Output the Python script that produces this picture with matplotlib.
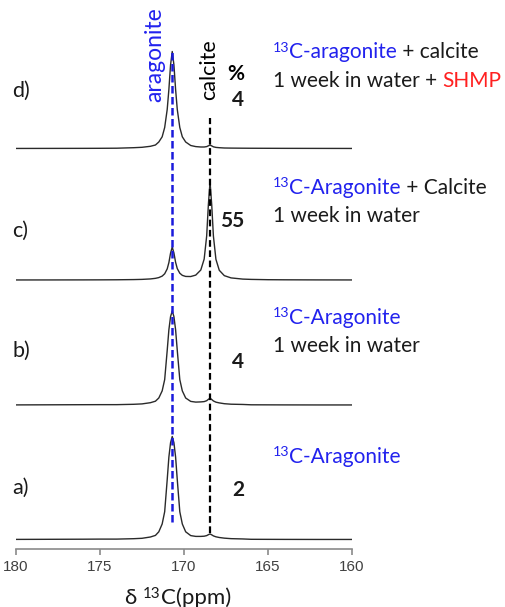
import matplotlib
matplotlib.use("Agg")
import matplotlib.pyplot as plt

# ---------------- data ----------------
ppm = [180, 178, 176, 175, 174, 173, 172.5, 172, 171.7, 171.5, 171.3, 171.15, 171.0, 170.9,
       170.8, 170.7, 170.6, 170.5, 170.4, 170.25, 170.1, 169.9, 169.6, 169.3, 169.0, 168.8,
       168.65, 168.55, 168.45, 168.35, 168.25, 168.1, 167.9, 167.6, 167.2, 166.5, 166, 165,
       164, 162, 160]

spec_a = [0.1, 0.2, 0.3, 0.4, 0.4, 0.8, 1.2, 2.5, 4.1, 7.7, 15.5, 27.8, 59.7, 82.4, 96.8, 103,
          96.8, 82.4, 59.7, 27.8, 15.5, 7.7, 3.9, 3.1, 3.1, 3.3, 3.9, 4.8, 5.6, 4.65, 3.6, 2.7,
          2.0, 1.35, 0.85, 0.55, 0.2, 0.15, 0.1, 0.05, 0.05]
spec_b = [0.1, 0.2, 0.3, 0.35, 0.35, 0.7, 1.1, 2.3, 3.8, 7.0, 14.1, 25.4, 54.5, 75.2, 88.4, 94,
          88.4, 75.2, 54.5, 25.4, 14.1, 7.0, 3.6, 2.9, 3.1, 3.4, 4.3, 5.65, 6.85, 5.5, 4.05, 2.85,
          2.1, 1.3, 0.8, 0.55, 0.2, 0.15, 0.1, 0.05, 0.05]
spec_c = [0.04, 0.06, 0.11, 0.15, 0.23, 0.42, 0.62, 1.07, 1.66, 2.42, 3.89, 6.23, 11.1, 17.4,
          26.9, 32.9, 27.0, 17.65, 11.4, 6.8, 4.65, 3.56, 3.47, 4.9, 10.0, 20.9, 44.1, 75.2, 98.3,
          75.2, 44.0, 20.7, 9.7, 4.35, 2.1, 0.9, 0.6, 0.3, 0.2, 0.1, 0.05]
spec_d = [0.05, 0.1, 0.15, 0.2, 0.3, 0.8, 1.2, 2.2, 3.5, 6.5, 11.7, 21, 39, 59, 83.6, 97, 83.6,
          59, 39, 21, 11.7, 6.5, 3.0, 1.9, 1.5, 1.5, 1.9, 2.7, 3.4, 2.6, 1.7, 1.1, 0.8, 0.5, 0.4,
          0.3, 0.25, 0.2, 0.15, 0.1, 0.05]

panel_labels = ["a)", "b)", "c)", "d)"]
calcite_pct = ["2", "4", "55", "4"]
aragonite_ppm = 170.7
calcite_ppm = 168.45
xticks = [180, 175, 170, 165, 160]

# ---------------- layout ----------------
W, H = 505, 607
fig = plt.figure(figsize=(W / 100, H / 100), dpi=100)
ax = fig.add_axes([16 / W, (H - 549) / H, 336 / W, 549 / H])
ax.set_xlim(180, 160)
ax.set_ylim(0, 549)

FONT = ["Lato", "DejaVu Sans"]
BLUE = "#1a1adc"
TBLUE = "#2222ee"
RED = "#ff2020"
TXT = "#1a1a1a"

offsets = [9.5, 144, 269, 400.5]
for spec, off in zip([spec_a, spec_b, spec_c, spec_d], offsets):
    ax.plot(ppm, [v + off for v in spec], color="#2a2a2a", lw=1.0, zorder=2)

ax.plot([aragonite_ppm, aragonite_ppm], [27, 497], color=BLUE, lw=1.8,
        dashes=(3, 1.4), zorder=3)
ax.plot([calcite_ppm, calcite_ppm], [16, 431], color="black", lw=1.6,
        dashes=(3, 1.6), zorder=3)

for s in ["left", "right", "top"]:
    ax.spines[s].set_visible(False)
ax.spines["bottom"].set_color("#8a8a8a")
ax.spines["bottom"].set_linewidth(1.2)
ax.set_yticks([])
ax.set_xticks(xticks)
ax.set_xticklabels([str(t) for t in xticks], fontfamily="Liberation Sans", fontsize=11,
                   color="#404040")
ax.tick_params(axis="x", direction="out", length=4, width=1.2, color="#8a8a8a", pad=4)

renderer = fig.canvas.get_renderer()


def ftxt(x, y, s, **kw):
    return fig.text(x / W, 1 - y / H, s, **kw)


def rich(x, ybase, parts, size=15):
    for s, color, scale, dy in parts:
        t = ftxt(x, ybase - dy, s, color=color, fontsize=size * scale, va="baseline",
                 ha="left", family=FONT)
        bb = t.get_window_extent(renderer)
        x += bb.width


# vertical labels
ftxt(155, 102, "aragonite", rotation=90, color=TBLUE, fontsize=16.5, ha="center",
     va="bottom", family=FONT)
ftxt(209, 100, "calcite", rotation=90, color="black", fontsize=15.5, ha="center",
     va="bottom", family=FONT)
ftxt(236, 74, "%", color="black", fontsize=15, ha="center", va="center",
     family=FONT, fontweight="bold")

# percentages
pct_pos = [(238, 490), (238, 362), (232, 221), (238, 100)]
for s, (x, y) in zip(calcite_pct, pct_pos):
    ftxt(x, y, s, color=TXT, fontsize=15, ha="center", va="center", family=FONT,
         fontweight="bold")

# panel labels
lab_pos = [(12, 488), (12, 351), (12, 231), (12, 91)]
for s, (x, y) in zip(panel_labels, lab_pos):
    ftxt(x, y, s, color=TXT, fontsize=15.5, ha="left", va="center", family=FONT)

# right-hand descriptions
X0 = 273
sup = 0.68
rise = 6.5
rich(X0, 58.5, [("13", TBLUE, sup, rise), ("C-aragonite", TBLUE, 1, 0),
                (" + calcite", TXT, 1, 0)])
rich(X0, 87, [("1 week in water + ", TXT, 1, 0), ("SHMP", RED, 1, 0)])
rich(X0, 193.5, [("13", TBLUE, sup, rise), ("C-Aragonite", TBLUE, 1, 0),
                 (" + Calcite", TXT, 1, 0)])
rich(X0, 222, [("1 week in water", TXT, 1, 0)])
rich(X0, 323.5, [("13", TBLUE, sup, rise), ("C-Aragonite", TBLUE, 1, 0)])
rich(X0, 352, [("1 week in water", TXT, 1, 0)])
rich(X0, 463, [("13", TBLUE, sup, rise), ("C-Aragonite", TBLUE, 1, 0)])

# x-axis title
rich(125, 604, [("δ ", TXT, 1.0, 0), ("13", TXT, sup, rise), ("C(ppm)", TXT, 1.0, 0)],
     size=16)

fig.savefig("out.png", dpi=100, facecolor="white")
